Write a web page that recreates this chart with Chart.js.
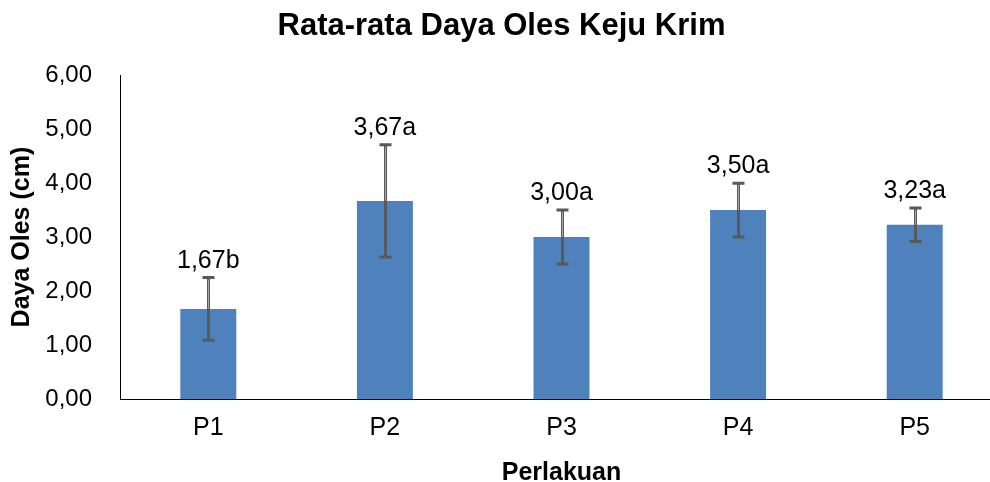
<!DOCTYPE html>
<html>
<head>
<meta charset="utf-8">
<script src="https://cdn.jsdelivr.net/npm/chart.js@4"></script>
<style>
  html, body { margin: 0; padding: 0; background: #fff; overflow: hidden; }
  #wrap { width: 1003px; height: 490px; }
</style>
</head>
<body>
<div id="wrap"><canvas id="chart" width="1003" height="490"></canvas></div>
<script>
// data
const categories = ['P1', 'P2', 'P3', 'P4', 'P5'];
const means = [1.67, 3.67, 3.00, 3.50, 3.23];
const errors = [0.58, 1.04, 0.50, 0.50, 0.31];
const letters = ['b', 'a', 'a', 'a', 'a'];

const fmt = v => v.toFixed(2).replace('.', ',');
const font = 'Arial, "Liberation Sans", sans-serif';

// error bars + value labels
const errorBars = {
  id: 'errorBars',
  afterDatasetsDraw(chart) {
    const ctx = chart.ctx;
    const meta = chart.getDatasetMeta(0);
    const y = chart.scales.y;
    ctx.save();
    meta.data.forEach((bar, i) => {
      const x = Math.round(bar.x) + 0.5;
      const top = y.getPixelForValue(means[i] + errors[i]);
      const bot = y.getPixelForValue(means[i] - errors[i]);
      const barTop = y.getPixelForValue(means[i]);
      ctx.strokeStyle = '#595959';
      ctx.lineWidth = 3;
      ctx.beginPath();
      ctx.moveTo(x, top); ctx.lineTo(x, bot);
      ctx.moveTo(x - 6, top); ctx.lineTo(x + 6, top);
      ctx.moveTo(x - 6, bot); ctx.lineTo(x + 6, bot);
      ctx.stroke();
      ctx.strokeStyle = '#a6a6a6';
      ctx.lineWidth = 1;
      ctx.beginPath();
      ctx.moveTo(x, top + 2); ctx.lineTo(x, barTop);
      ctx.stroke();

      ctx.fillStyle = '#000';
      ctx.font = '25px ' + font;
      ctx.textAlign = 'center';
      ctx.textBaseline = 'alphabetic';
      ctx.fillText(fmt(means[i]) + letters[i], bar.x, top - 10);
    });
    ctx.restore();
  }
};

new Chart(document.getElementById('chart'), {
  type: 'bar',
  data: {
    labels: categories,
    datasets: [{
      data: means,
      backgroundColor: '#4f81bd',
      borderWidth: 0,
      categoryPercentage: 1,
      barPercentage: 0.317
    }]
  },
  options: {
    responsive: false,
    animation: false,
    layout: { padding: 0 },
    plugins: {
      legend: { display: false },
      tooltip: { enabled: false },
      title: {
        display: true,
        text: 'Rata-rata Daya Oles Keju Krim',
        color: '#000',
        font: { family: font, size: 31, weight: 'bold' },
        padding: { top: 8, bottom: 30 }
      }
    },
    scales: {
      x: {
        grid: { display: false, drawTicks: false, tickLength: 0 },
        border: { color: '#000', width: 1 },
        ticks: { color: '#000', font: { family: font, size: 25 }, padding: 14 },
        title: {
          display: true,
          text: 'Perlakuan',
          color: '#000',
          font: { family: font, size: 25, weight: 'bold' },
          padding: { top: 0, bottom: 2 }
        },
        afterFit: s => { s.height = 91; }
      },
      y: {
        min: 0,
        max: 6,
        grid: { display: false, drawTicks: false, tickLength: 0 },
        border: { color: '#000', width: 1 },
        ticks: {
          stepSize: 1,
          color: '#000',
          font: { family: font, size: 24 },
          padding: 28,
          callback: v => fmt(v)
        },
        title: {
          display: true,
          text: 'Daya Oles (cm)',
          color: '#000',
          font: { family: font, size: 25, weight: 'bold' },
          padding: { top: 7, bottom: 0 }
        },
        afterFit: s => { s.width = 120; }
      }
    }
  },
  plugins: [errorBars]
});
</script>
</body>
</html>
